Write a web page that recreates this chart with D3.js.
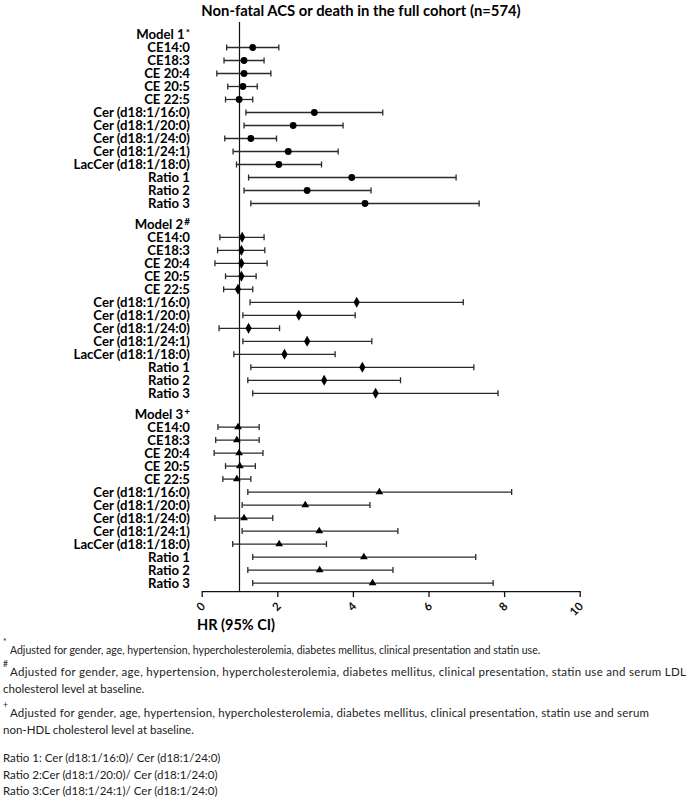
<!DOCTYPE html>
<html>
<head>
<meta charset="utf-8">
<script src="https://cdn.jsdelivr.net/npm/d3@7"></script>
<style>
  body { margin: 0; background: #fff; }
  svg { font-family: Lato, "Open Sans", sans-serif; }
</style>
</head>
<body>
<svg id="chart" width="697" height="804"></svg>
<script>
// row labels, repeated for each model
const lipids = ["CE14:0", "CE18:3", "CE 20:4", "CE 20:5", "CE 22:5",
    "Cer (d18:1/16:0)", "Cer (d18:1/20:0)", "Cer (d18:1/24:0)", "Cer (d18:1/24:1)",
    "LacCer (d18:1/18:0)", "Ratio 1", "Ratio 2", "Ratio 3"];
const models = ["Model 1", "Model 2", "Model 3"];
const modelMarks = ["*", "#", "+"];

// hazard ratios with 95% CI
const hr1 = [1.35, 1.12, 1.12, 1.09, 0.99, 2.98, 2.42, 1.30, 2.29, 2.04, 3.97, 2.79, 4.32];
const lo1 = [0.66, 0.59, 0.40, 0.69, 0.63, 1.17, 1.12, 0.61, 0.83, 0.92, 1.24, 1.12, 1.30];
const hi1 = [2.04, 1.65, 1.83, 1.47, 1.35, 4.79, 3.74, 1.98, 3.61, 3.17, 6.73, 4.48, 7.34];

const hr2 = [1.07, 1.05, 1.05, 1.05, 0.96, 4.10, 2.57, 1.24, 2.79, 2.19, 4.25, 3.24, 4.60];
const lo2 = [0.48, 0.42, 0.35, 0.63, 0.58, 1.28, 1.09, 0.46, 1.09, 0.85, 1.30, 1.22, 1.35];
const hi2 = [1.65, 1.67, 1.73, 1.44, 1.35, 6.92, 4.06, 2.06, 4.50, 3.53, 7.20, 5.26, 7.84];

const hr3 = [0.96, 0.93, 0.99, 1.01, 0.93, 4.70, 2.74, 1.12, 3.11, 2.05, 4.29, 3.12, 4.52];
const lo3 = [0.43, 0.37, 0.33, 0.63, 0.56, 1.22, 1.07, 0.35, 1.07, 0.82, 1.35, 1.22, 1.35];
const hi3 = [1.52, 1.52, 1.62, 1.42, 1.30, 8.20, 4.45, 1.88, 5.19, 3.30, 7.25, 5.06, 7.71];

const xTicks = [0, 2, 4, 6, 8, 10];

const footnotes = [
    {mark: "*", lines: ["Adjusted for gender, age, hypertension, hypercholesterolemia, diabetes mellitus, clinical presentation and statin use."]},
    {mark: "#", lines: ["Adjusted for gender, age, hypertension, hypercholesterolemia, diabetes mellitus, clinical presentation, statin use and serum LDL",
        "cholesterol level at baseline."]},
    {mark: "+", lines: ["Adjusted for gender, age, hypertension, hypercholesterolemia, diabetes mellitus, clinical presentation, statin use and serum",
        "non-HDL cholesterol level at baseline."]}
];
const ratioNotes = ["Ratio 1: Cer (d18:1/16:0)/ Cer (d18:1/24:0)",
    "Ratio 2:Cer (d18:1/20:0)/ Cer (d18:1/24:0)",
    "Ratio 3:Cer (d18:1/24:1)/ Cer (d18:1/24:0)"];

const series = [
    {hr: hr1, lo: lo1, hi: hi1, symbol: d3.symbolCircle, size: 36},
    {hr: hr2, lo: lo2, hi: hi2, symbol: d3.symbolDiamond, size: 34},
    {hr: hr3, lo: lo3, hi: hi3, symbol: d3.symbolTriangle, size: 26}
];

const svg = d3.select("#chart");

const x = d3.scaleLinear().domain([0, 10]).range([201.7, 579.7]);
// y in row slots: header at slot 0 of each block, rows after it
const blockSlots = 14.6;
const y = d3.scaleLinear().domain([0, 1]).range([34.5, 47.5]);

const rows = [];
series.forEach(function (s, m) {
    lipids.forEach(function (name, i) {
        rows.push({model: m, name: name, hr: s.hr[i], lo: s.lo[i], hi: s.hi[i],
            slot: m * blockSlots + 1 + i});
    });
});

// title
svg.append("text")
    .attr("x", 361)
    .attr("y", 11)
    .attr("dy", "0.35em")
    .attr("text-anchor", "middle")
    .attr("font-weight", "bold")
    .attr("font-size", "14.8px")
    .text("Non-fatal ACS or death in the full cohort (n=574)");

// reference line at HR = 1
const axisY = y(2 * blockSlots + 13) + 8;
svg.append("line")
    .attr("x1", x(1)).attr("x2", x(1))
    .attr("y1", 22).attr("y2", axisY)
    .attr("stroke", "#111")
    .attr("stroke-width", 1.2);

// model headers
const headers = svg.append("g")
    .attr("font-weight", "bold")
    .attr("font-size", "13.2px")
    .attr("text-anchor", "end");
models.forEach(function (mName, m) {
    const t = headers.append("text")
        .attr("x", 190)
        .attr("y", y(m * blockSlots))
        .attr("dy", "0.35em")
        .text(mName);
    t.append("tspan")
        .attr("dx", "1")
        .attr("dy", "-0.35em")
        .attr("font-size", "10px")
        .text(modelMarks[m]);
});

// row labels
svg.append("g")
    .attr("font-weight", "bold")
    .attr("font-size", "13.2px")
    .attr("text-anchor", "end")
    .selectAll("text")
    .data(rows)
    .enter().append("text")
    .attr("x", 190)
    .attr("y", function (d) { return y(d.slot); })
    .attr("dy", "0.35em")
    .text(function (d) { return d.name; });

// confidence intervals
const ci = svg.append("g")
    .attr("stroke", "#2a2a2a")
    .attr("stroke-width", 1.3)
    .selectAll("g")
    .data(rows)
    .enter().append("g");

ci.append("line")
    .attr("x1", function (d) { return x(d.lo); })
    .attr("x2", function (d) { return x(d.hi); })
    .attr("y1", function (d) { return y(d.slot); })
    .attr("y2", function (d) { return y(d.slot); });

ci.selectAll(".cap")
    .data(function (d) { return [{v: d.lo, s: d.slot}, {v: d.hi, s: d.slot}]; })
    .enter().append("line")
    .attr("class", "cap")
    .attr("x1", function (d) { return x(d.v); })
    .attr("x2", function (d) { return x(d.v); })
    .attr("y1", function (d) { return y(d.s) - 3; })
    .attr("y2", function (d) { return y(d.s) + 3; });

// point estimates
svg.append("g")
    .selectAll("path")
    .data(rows)
    .enter().append("path")
    .attr("transform", function (d) {
        return "translate(" + x(d.hr) + "," + y(d.slot) + ")";
    })
    .attr("d", function (d) {
        return d3.symbol().type(series[d.model].symbol).size(series[d.model].size)();
    })
    .attr("fill", "#000");

// x axis
const axisG = svg.append("g")
    .attr("transform", "translate(0," + axisY + ")")
    .call(d3.axisBottom(x).tickValues(xTicks).tickSize(6).tickSizeOuter(0));
axisG.select(".domain").attr("stroke", "#111").attr("stroke-width", 1.3);
axisG.selectAll(".tick line").attr("stroke", "#111").attr("stroke-width", 1.3);
axisG.selectAll(".tick text")
    .attr("font-family", "Lato, sans-serif")
    .attr("font-weight", "bold")
    .attr("font-size", "11.5px")
    .attr("fill", "#111")
    .attr("text-anchor", "end")
    .attr("x", 0)
    .attr("y", 0)
    .attr("dy", "0.35em")
    .attr("transform", "translate(1,13) rotate(-45)");

svg.append("text")
    .attr("x", 197)
    .attr("y", 625)
    .attr("dy", "0.35em")
    .attr("font-weight", "bold")
    .attr("font-size", "14.5px")
    .text("HR (95% CI)");

// footnotes
const notes = svg.append("g")
    .attr("font-size", "11.5px")
    .attr("fill", "#222");
const noteTops = [650, 672, 713];
// first footnote line is set smaller, the two long ones stretched to their measured width
const noteSizes = ["10.5px", "11.5px", "11.5px"];
const noteWidths = [null, 676, 639];
footnotes.forEach(function (f, i) {
    notes.append("text")
        .attr("x", 3)
        .attr("y", noteTops[i] - 5)
        .attr("font-size", "8.5px")
        .text(f.mark);
    f.lines.forEach(function (line, j) {
        const t = notes.append("text")
            .attr("x", j === 0 ? 10 : 3)
            .attr("y", noteTops[i] + j * 17)
            .attr("dy", "0.35em")
            .text(line);
        if (j === 0) {
            t.attr("font-size", noteSizes[i]);
            if (noteWidths[i]) {
                t.attr("textLength", noteWidths[i]).attr("lengthAdjust", "spacing");
            }
        }
    });
});
ratioNotes.forEach(function (line, i) {
    notes.append("text")
        .attr("x", 3)
        .attr("y", 758 + i * 16.5)
        .attr("dy", "0.35em")
        .text(line);
});
</script>
</body>
</html>
